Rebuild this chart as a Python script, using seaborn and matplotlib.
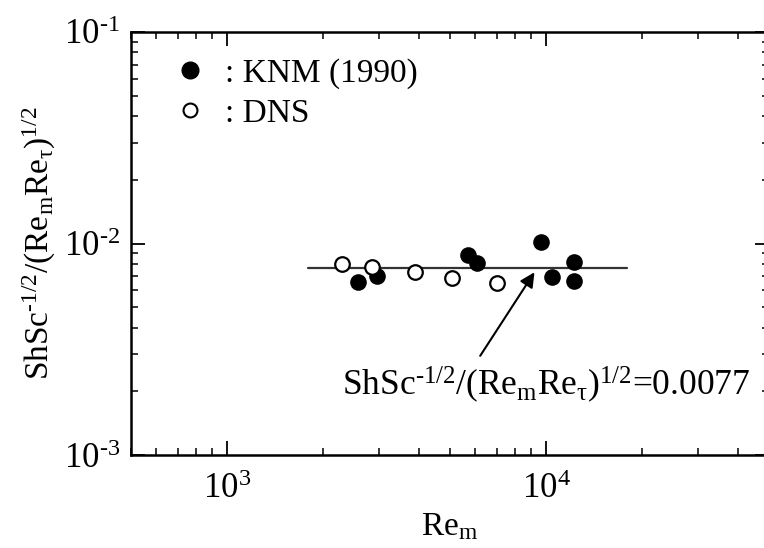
import numpy as np
import pandas as pd
import matplotlib
matplotlib.use("Agg")
import matplotlib.pyplot as plt
import seaborn as sns
from matplotlib.lines import Line2D
from matplotlib.ticker import LogLocator, FuncFormatter

# KNM (1990) experimental points
knm_re = [2580, 2960, 5680, 6080, 9620, 10470, 12250, 12250]
knm_val = [0.00660, 0.00702, 0.00882, 0.00806, 0.01013, 0.00697, 0.00820, 0.00667]

# DNS points
dns_re = [2290, 2840, 3890, 5070, 7030]
dns_val = [0.00797, 0.00777, 0.00731, 0.00685, 0.00648]

# correlation line
fit_re = [1800, 18000]
fit_val = [0.0077, 0.0077]

sns.set_style("ticks")
plt.rcParams['font.family'] = ['Liberation Serif', 'DejaVu Serif']
plt.rcParams['mathtext.fontset'] = 'custom'
plt.rcParams['mathtext.rm'] = 'Liberation Serif'
plt.rcParams['mathtext.it'] = 'Liberation Serif:italic'
plt.rcParams['mathtext.bf'] = 'Liberation Serif:bold'
for k in ['text.color', 'axes.labelcolor', 'xtick.color', 'ytick.color', 'axes.edgecolor']:
    plt.rcParams[k] = 'black'

HY = '\u2010'  # short hyphen like the original typesetting
ylab = r'ShSc$^{\rm ' + HY + r'1/2}$/(Re$_{\rm m}$Re$_{\rm τ}$)$^{\rm 1/2}$'

df = pd.concat([
    pd.DataFrame({'Re': knm_re, 'val': knm_val, 'src': 'KNM'}),
    pd.DataFrame({'Re': dns_re, 'val': dns_val, 'src': 'DNS'}),
])

fig = plt.figure(figsize=(7.64, 5.48), dpi=100)
ax = fig.add_axes([131 / 764, 93 / 548, 638 / 764, 423 / 548])

sns.lineplot(x=fit_re, y=fit_val, color='#333333', lw=1.6, ax=ax)
sns.scatterplot(data=df[df.src == 'KNM'], x='Re', y='val', color='black',
                edgecolor='black', s=120, linewidth=1, ax=ax, zorder=3)
sns.scatterplot(data=df[df.src == 'DNS'], x='Re', y='val', color='white',
                edgecolor='black', s=110, linewidth=1.6, ax=ax, zorder=3)

ax.set_xscale('log')
ax.set_yscale('log')
ax.set_xlim(500, 50000)
ax.set_ylim(1e-3, 1e-1)
ax.xaxis.set_minor_locator(LogLocator(base=10, subs=np.arange(2, 10)))
ax.yaxis.set_minor_locator(LogLocator(base=10, subs=np.arange(2, 10)))


def pow_fmt(v, pos):
    e = int(round(np.log10(v)))
    s = str(e).replace('-', HY)
    return r'10$^{\rm ' + s + '}$'


ax.xaxis.set_major_formatter(FuncFormatter(pow_fmt))
ax.yaxis.set_major_formatter(FuncFormatter(pow_fmt))

for s in ax.spines.values():
    s.set_linewidth(1.8)
ax.tick_params(which='both', direction='in', top=True, right=True, labelsize=25)
ax.tick_params(axis='x', pad=13)
ax.tick_params(axis='y', pad=8)
ax.tick_params(which='major', length=10, width=1.3)
ax.tick_params(which='minor', length=5, width=1.1)

ax.set_xlabel(r'Re$_{\rm m}$', fontsize=24, labelpad=4)
ax.set_ylabel(ylab, fontsize=24, labelpad=4)

handles = [
    Line2D([], [], marker='o', ls='none', color='black', markersize=12),
    Line2D([], [], marker='o', ls='none', markerfacecolor='white',
           markeredgecolor='black', markeredgewidth=1.5, markersize=10),
]
ax.legend(handles, [': KNM (1990)', ': DNS'], loc='upper left', frameon=False,
          fontsize=24, handletextpad=0.3, labelspacing=0.28,
          bbox_to_anchor=(165 / 764, 1 - 58 / 548), bbox_transform=fig.transFigure,
          borderaxespad=0, borderpad=0, handlelength=1.5)

ax.annotate('', xy=(9300, 0.0075), xytext=(6150, 0.00287),
            arrowprops=dict(arrowstyle='-|>', color='black', lw=1.5, mutation_scale=22))
ax.text(2290, 0.00192, ylab + '=0.0077',
        fontsize=25.5, ha='left', va='baseline')

fig.savefig('out.png', dpi=100)
